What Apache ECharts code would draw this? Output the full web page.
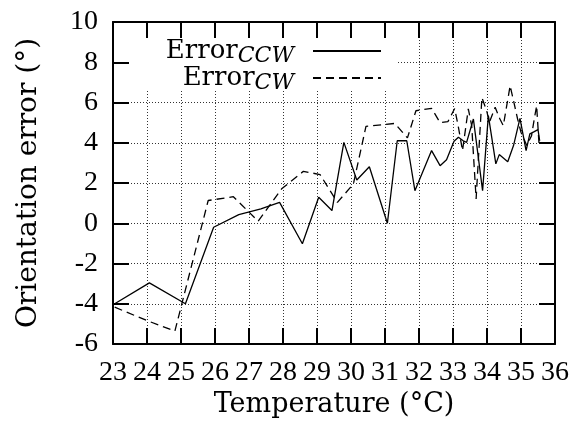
<!DOCTYPE html>
<html>
<head>
<meta charset="utf-8">
<script src="https://cdn.jsdelivr.net/npm/echarts@6/dist/echarts.min.js"></script>
<style>
html, body { margin: 0; background: #fff; }
#main { width: 573px; height: 428px; }
</style>
</head>
<body>
<div id="main"></div>
<script>
var chart = echarts.init(document.getElementById('main'));

var tickFont = 'Liberation Serif';
var textFont = 'DejaVu Serif';

// legend subscripts
var seriesNames = ['CCW', 'CW'];

// counter-clockwise error (solid)
var ccwTemp = [23.05, 24.07, 25.13, 25.96, 26.7, 27.35, 27.9, 28.57, 29.05, 29.44,
    29.79, 30.17, 30.54, 31.07, 31.36, 31.64, 31.88, 32.37, 32.62, 32.81,
    33.03, 33.16, 33.3, 33.4, 33.6, 33.87, 34.04, 34.26, 34.36, 34.61,
    34.78, 34.97, 35.15, 35.26, 35.39, 35.5, 35.55];
var ccwErr = [-4.0, -2.96, -4.0, -0.2, 0.43, 0.71, 1.04, -1.02, 1.29, 0.63,
    4.02, 2.15, 2.81, 0.0, 4.1, 4.1, 1.62, 3.61, 2.86, 3.16,
    4.07, 4.27, 4.1, 4.02, 5.18, 1.62, 5.35, 2.95, 3.41, 3.06,
    3.86, 5.21, 3.61, 4.44, 4.55, 4.65, 4.1];

// clockwise error (dashed)
var cwTemp = [23.05, 23.99, 24.82, 25.8, 26.54, 27.27, 27.96, 28.6, 29.09, 29.6,
    30.07, 30.44, 31.29, 31.66, 31.91, 32.37, 32.62, 32.85, 33.05, 33.16,
    33.28, 33.45, 33.55, 33.68, 33.85, 33.99, 34.07, 34.24, 34.38, 34.48,
    34.58, 34.68, 34.78, 34.9, 35.0, 35.17, 35.31, 35.39, 35.46, 35.53];
var cwErr = [-4.17, -4.83, -5.36, 1.13, 1.32, 0.1, 1.71, 2.58, 2.42, 1.04,
    1.95, 4.81, 4.96, 4.24, 5.59, 5.71, 5.0, 5.05, 5.7, 4.76,
    3.61, 5.68, 4.85, 1.21, 6.25, 5.59, 5.01, 5.76, 5.18, 4.85,
    5.84, 6.83, 6.09, 5.18, 4.52, 3.86, 4.35, 5.18, 5.84, 3.94];

function zip(xs, ys) {
    return xs.map(function (x, i) { return [x, ys[i]]; });
}

var frame = { show: true, onZero: false, lineStyle: { color: '#000', width: 2 } };
var ticks = { show: true, inside: true, length: 16, lineStyle: { color: '#000', width: 2 } };
var grid = { show: true, lineStyle: { color: '#333', width: 1, type: [1, 2] } };
var tickText = { fontFamily: tickFont, fontSize: 28, color: '#000' };

function legendFor(name, top) {
    return {
        data: [name],
        right: 191,
        top: top,
        padding: 0,
        orient: 'vertical',
        align: 'right',
        itemWidth: 68,
        itemHeight: 14,
        itemStyle: { opacity: 0 },
        formatter: function (n) { return 'Error{s|' + n + '}'; },
        textStyle: {
            fontFamily: textFont,
            fontSize: 26,
            color: '#000',
            padding: [0, 14, 0, 0],
            rich: {
                s: { fontFamily: textFont, fontSize: 22, fontStyle: 'italic', color: '#000', padding: [10, 0, 0, 0] }
            }
        }
    };
}

var option = {
    animation: false,
    color: ['#000', '#000'],
    grid: { left: 113, right: 18, top: 22, bottom: 84, outerBoundsMode: 'none' },
    // opaque legend box over the grid lines
    graphic: [{
        type: 'rect',
        z: 1,
        shape: { x: 114, y: 23, width: 282, height: 68 },
        style: { fill: '#fff' }
    }],
    legend: [legendFor(seriesNames[0], 38), legendFor(seriesNames[1], 65)],
    xAxis: [{
        type: 'value',
        position: 'bottom',
        min: 23, max: 36, interval: 1,
        axisLine: frame,
        axisTick: ticks,
        axisLabel: Object.assign({ margin: 15 }, tickText),
        splitLine: grid,
        name: 'Temperature (°C)',
        nameLocation: 'middle',
        nameMoveOverlap: false,
        nameGap: 47,
        nameTextStyle: { fontFamily: textFont, fontSize: 27, color: '#000' }
    }, {
        type: 'value',
        position: 'top',
        z: 3,
        min: 23, max: 36, interval: 1,
        axisLine: frame,
        axisTick: ticks,
        axisLabel: { show: false },
        splitLine: { show: false }
    }],
    yAxis: [{
        type: 'value',
        position: 'left',
        z: 3,
        min: -6, max: 10, interval: 2,
        axisLine: frame,
        axisTick: ticks,
        axisLabel: Object.assign({ margin: 15 }, tickText),
        splitLine: { show: false },
        name: 'Orientation error (°)',
        nameLocation: 'middle',
        nameMoveOverlap: false,
        nameGap: 70,
        nameTextStyle: { fontFamily: textFont, fontSize: 28, color: '#000' }
    }, {
        type: 'value',
        position: 'right',
        min: -6, max: 10, interval: 2,
        axisLine: frame,
        axisTick: ticks,
        axisLabel: { show: false },
        splitLine: grid
    }],
    series: [{
        name: seriesNames[0],
        type: 'line',
        symbol: 'none',
        data: zip(ccwTemp, ccwErr),
        lineStyle: { color: '#000', width: 1.3, type: 'solid' }
    }, {
        name: seriesNames[1],
        type: 'line',
        symbol: 'none',
        data: zip(cwTemp, cwErr),
        lineStyle: { color: '#000', width: 1.3, type: [8, 5] }
    }]
};

chart.setOption(option);
</script>
</body>
</html>
